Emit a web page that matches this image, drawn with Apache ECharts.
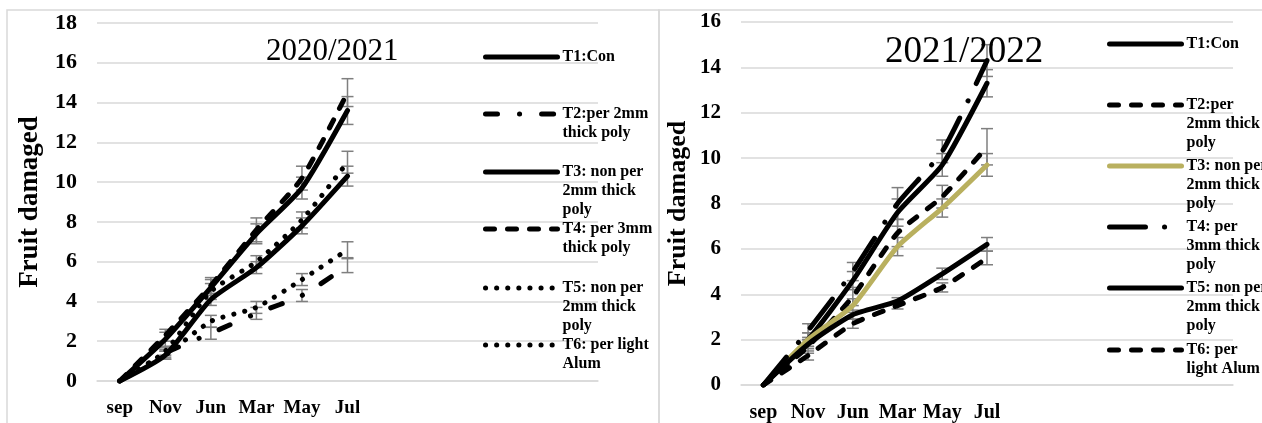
<!DOCTYPE html>
<html>
<head>
<meta charset="utf-8">
<title>Fruit damaged</title>
<script src="https://cdn.jsdelivr.net/npm/echarts@6/dist/echarts.min.js"></script>
<style>
  html, body { margin: 0; padding: 0; background: #fff; }
  #chart { width: 1262px; height: 423px; }
</style>
</head>
<body>
<div id="chart"></div>
<script>
// categories (same months for both seasons)
const months = ["sep", "Nov", "Jun", "Mar", "May", "Jul"];

// season 2020/2021 - fruit damaged
const t1_2021 = [0, 2.1, 4.7, 7.4, 9.7, 13.6];
const t2_2021 = [0, 1.4, 2.4, 3.4, 4.3, 5.8];
const t3_2021 = [0, 1.3, 4.1, 5.7, 7.8, 10.3];
const t4_2021 = [0, 2.3, 4.8, 7.6, 10.2, 14.5];
const t5_2021 = [0, 1.5, 4.5, 6.0, 8.1, 11.0];
const t6_2021 = [0, 1.3, 3.0, 3.7, 5.1, 6.6];
// error bars (+/-)
const e1_2021 = [0, 0.35, 0.4, 0.5, 0.55, 0.7];
const e2_2021 = [0, 0.2, 0.3, 0.3, 0.3, 0.35];
const e3_2021 = [0, 0.2, 0.3, 0.3, 0.4, 0.5];
const e4_2021 = [0, 0.3, 0.4, 0.6, 0.6, 0.7];
const e5_2021 = [0, 0.2, 0.4, 0.3, 0.4, 0.55];
const e6_2021 = [0, 0.2, 0.3, 0.3, 0.3, 0.4];

// season 2021/2022
const t1_2022 = [0, 2.0, 4.6, 7.6, 9.7, 13.3];
const t2_2022 = [0, 1.7, 3.9, 6.7, 8.3, 10.5];
const t3_2022 = [0, 2.0, 3.5, 6.1, 7.8, 9.7];
const t4_2022 = [0, 2.4, 5.0, 8.0, 10.3, 14.3];
const t5_2022 = [0, 1.8, 3.1, 3.7, 4.9, 6.2];
const t6_2022 = [0, 1.3, 2.7, 3.5, 4.3, 5.6];
const e1_2022 = [0, 0.3, 0.4, 0.6, 0.5, 0.6];
const e2_2022 = [0, 0.3, 0.4, 0.6, 0.5, 0.8];
const e3_2022 = [0, 0.3, 0.3, 0.4, 0.4, 0.5];
const e4_2022 = [0, 0.3, 0.4, 0.7, 0.5, 0.7];
const e5_2022 = [0, 0.2, 0.2, 0.15, 0.25, 0.3];
const e6_2022 = [0, 0.2, 0.2, 0.15, 0.2, 0.3];

// legend texts
const labels2021 = ["T1:Con", "T2:per 2mm\nthick poly", "T3: non per\n2mm thick\npoly",
  "T4: per 3mm\nthick poly", "T5: non per\n2mm thick\npoly", "T6: per light\nAlum"];
const labels2022 = ["T1:Con", "T2:per\n2mm thick\npoly", "T3: non per\n2mm thick\npoly",
  "T4: per\n3mm thick\npoly", "T5: non per\n2mm thick\npoly", "T6: per\nlight Alum"];

const SERIF = "'Times New Roman', 'Liberation Serif', serif";
const LEGEND_LH = 19;

// line looks
const solid = { type: "solid" };
const dashed = { type: [9, 13] };
const dotted = { type: [0.1, 11] };
const dashDot = { type: [12, 22, 0.1, 22] };
const longDashDot = { type: [36, 19, 0.1, 19] };

function line(name, idx, data, look, color) {
  return {
    name: name,
    type: "line",
    xAxisIndex: idx,
    yAxisIndex: idx,
    data: data,
    symbol: "none",
    smooth: 0.2,
    z: 3,
    lineStyle: Object.assign({ color: color || "#000", width: 5, cap: "round" }, look),
    itemStyle: { color: color || "#000" }
  };
}

function renderErrorBar(params, api) {
  const x = api.value(0), y = api.value(1), e = api.value(2);
  if (!e) return null;
  const hi = api.coord([x, y + e]);
  const lo = api.coord([x, y - e]);
  const w = 6;
  const style = { stroke: "#7f7f7f", lineWidth: 1.5 };
  return {
    type: "group",
    children: [
      { type: "line", shape: { x1: hi[0], y1: hi[1], x2: lo[0], y2: lo[1] }, style: style },
      { type: "line", shape: { x1: hi[0] - w, y1: hi[1], x2: hi[0] + w, y2: hi[1] }, style: style },
      { type: "line", shape: { x1: lo[0] - w, y1: lo[1], x2: lo[0] + w, y2: lo[1] }, style: style }
    ]
  };
}

function errors(idx, values, errs) {
  return {
    type: "custom",
    xAxisIndex: idx,
    yAxisIndex: idx,
    z: 2,
    silent: true,
    renderItem: renderErrorBar,
    encode: { x: 0, y: 1 },
    data: values.map((v, i) => [i, v, errs[i]])
  };
}

function legends(ids, labels, x, ys) {
  return ids.map((id, i) => {
    const n = labels[i].split("\n").length;
    return {
      data: [id],
      left: x,
      top: ys[i] - (2 * n - 1) * LEGEND_LH / 2,
      orient: "vertical",
      padding: 0,
      itemWidth: 72,
      itemHeight: 14,
      selectedMode: false,
      formatter: () => "\n".repeat(n - 1) + labels[i],
      textStyle: { fontFamily: SERIF, fontWeight: "bold", fontSize: 16, lineHeight: LEGEND_LH, color: "#000" },
      lineStyle: { width: "inherit" },
      itemStyle: { opacity: 0 }
    };
  });
}

function xAxis(idx, fontSize) {
  return {
    type: "category",
    gridIndex: idx,
    data: months,
    max: 10,
    boundaryGap: true,
    axisTick: { show: false },
    axisLine: { lineStyle: { color: "#d9d9d9", width: 1.5 } },
    axisLabel: {
      interval: 0, margin: 18, color: "#000",
      fontFamily: SERIF, fontWeight: "bold", fontSize: fontSize,
      formatter: (v) => v || ""
    }
  };
}

function yAxis(idx, max, fontSize, nameSize, nameGap) {
  return {
    type: "value",
    gridIndex: idx,
    min: 0,
    max: max,
    interval: 2,
    name: "Fruit damaged",
    nameLocation: "middle",
    nameRotate: 90,
    nameGap: nameGap,
    nameTextStyle: { fontFamily: SERIF, fontWeight: "bold", fontSize: nameSize, color: "#000" },
    axisLine: { show: false },
    axisTick: { show: false },
    splitLine: { lineStyle: { color: "#d9d9d9", width: 1.5 } },
    axisLabel: { margin: 20, color: "#000", fontFamily: SERIF, fontWeight: "bold", fontSize: fontSize }
  };
}

const chart = echarts.init(document.getElementById("chart"));

const ids2021 = ["a1", "a2", "a3", "a4", "a5", "a6"];
const ids2022 = ["b1", "b2", "b3", "b4", "b5", "b6"];

chart.setOption({
  animation: false,
  backgroundColor: "#fff",
  title: [
    { text: "2020/2021", left: 266, top: 36, padding: 0,
      textStyle: { fontFamily: SERIF, fontWeight: "normal", fontSize: 31, color: "#000" } },
    { text: "2021/2022", left: 885, top: 34, padding: 0,
      textStyle: { fontFamily: SERIF, fontWeight: "normal", fontSize: 37, color: "#000" } }
  ],
  graphic: [
    { type: "rect", silent: true, z: -10, shape: { x: 7, y: 10, width: 652, height: 440 },
      style: { fill: "none", stroke: "#d9d9d9", lineWidth: 1.5 } },
    { type: "rect", silent: true, z: -10, shape: { x: 659, y: 10, width: 640, height: 440 },
      style: { fill: "none", stroke: "#d9d9d9", lineWidth: 1.5 } }
  ],
  legend: legends(ids2021, labels2021, 483, [57, 114, 172, 229, 288, 345])
    .concat(legends(ids2022, labels2022, 1107, [44, 105, 166, 227, 288, 350])),
  grid: [
    { left: 97, right: 664, top: 23, bottom: 42 },
    { left: 741, right: 29, top: 22, bottom: 36 }
  ],
  xAxis: [xAxis(0, 19), xAxis(1, 20)],
  yAxis: [yAxis(0, 18, 22, 27, 53), yAxis(1, 16, 21, 26, 50)],
  series: [
    errors(0, t1_2021, e1_2021), errors(0, t2_2021, e2_2021), errors(0, t3_2021, e3_2021),
    errors(0, t4_2021, e4_2021), errors(0, t5_2021, e5_2021), errors(0, t6_2021, e6_2021),
    line("a1", 0, t1_2021, solid),
    line("a2", 0, t2_2021, dashDot),
    line("a3", 0, t3_2021, solid),
    line("a4", 0, t4_2021, dashed),
    line("a5", 0, t5_2021, dotted),
    line("a6", 0, t6_2021, dotted),

    errors(1, t1_2022, e1_2022), errors(1, t2_2022, e2_2022), errors(1, t3_2022, e3_2022),
    errors(1, t4_2022, e4_2022), errors(1, t5_2022, e5_2022), errors(1, t6_2022, e6_2022),
    line("b1", 1, t1_2022, solid),
    line("b2", 1, t2_2022, dashed),
    line("b3", 1, t3_2022, solid, "#b9b05f"),
    line("b4", 1, t4_2022, longDashDot),
    line("b5", 1, t5_2022, solid),
    line("b6", 1, t6_2022, dashed)
  ]
});
</script>
</body>
</html>
